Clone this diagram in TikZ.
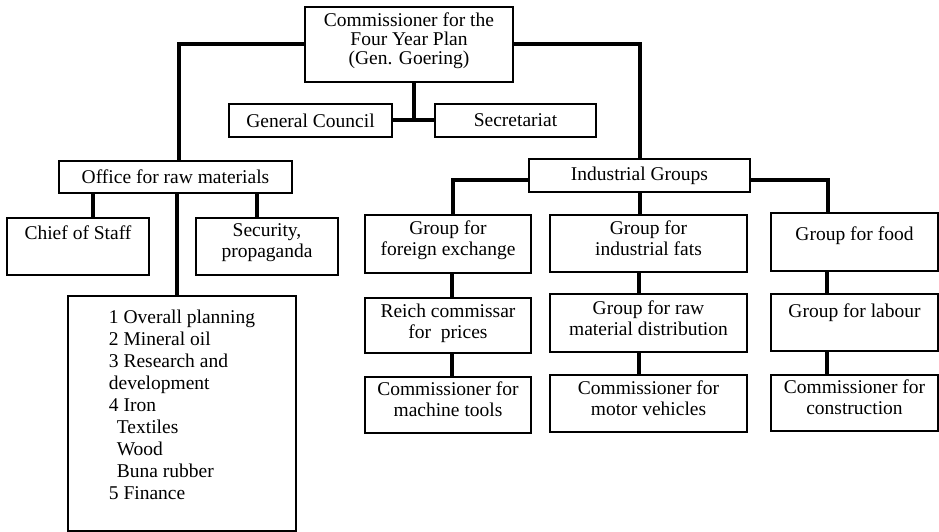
\documentclass[tikz,border=0pt]{standalone}
\usepackage{fontspec}
\setmainfont{Liberation Serif}
\usetikzlibrary{calc}
\newcommand{\lift}[2]{\raisebox{#1}[0pt][0pt]{#2}}
\newcommand{\tx}[2][-2pt]{\raisebox{#1}[0pt][0pt]{\begin{tabular}{@{}c@{}}#2\end{tabular}}}
\begin{document}
\begin{tikzpicture}[x=1pt,y=-1pt,
  box/.style={draw, line width=2.2pt, inner sep=0pt, align=center,
    font=\fontsize{19.5}{21}\selectfont},
  conn/.style={line width=4pt},
]
\useasboundingbox (0,0) rectangle (939,532);
% top level
\node[box, minimum width=208pt, minimum height=75pt,
  font=\fontsize{19.5}{19}\selectfont] (top) at (409,44.5)
  {\tx{Commissioner for the\\Four Year Plan\\(Gen. Goering)}};
\node[box, minimum width=163pt, minimum height=33pt] (gc) at (310.5,120.5) {General Council};
\node[box, minimum width=161pt, minimum height=33pt] (sec) at (515.5,120.5) {Secretariat};
% left branch
\node[box, minimum width=233pt, minimum height=32pt] (office) at (175.5,177) {Office for raw materials};
\node[box, minimum width=142pt, minimum height=57pt] (chief) at (78,246.5) {\lift{7pt}{Chief of Staff}};
\node[box, minimum width=142pt, minimum height=57pt] (secp) at (267,246.5) {\tx[-1pt]{Security,\\propaganda}};
\node[box, minimum width=228pt, minimum height=235pt,
  font=\fontsize{19.5}{22}\selectfont] (big) at (182,413.5)
  {\lift{1pt}{\begin{tabular}{@{}l@{}}
  1 Overall planning\\
  2 Mineral oil\\
  3 Research and\\
  development\\
  4 Iron\\
  \hspace*{8pt}Textiles\\
  \hspace*{8pt}Wood\\
  \hspace*{8pt}Buna rubber\\
  5 Finance
  \end{tabular}}};
% right branch
\node[box, minimum width=221pt, minimum height=33pt] (ig) at (639.5,175.5) {Industrial Groups};
\node[box, minimum width=166pt, minimum height=58pt] (fx) at (448,244) {\tx{Group for\\foreign exchange}};
\node[box, minimum width=197pt, minimum height=57pt] (fats) at (648.5,243.5) {\tx{Group for\\industrial fats}};
\node[box, minimum width=167pt, minimum height=58pt] (food) at (854.5,242) {\lift{2pt}{Group for food}};
\node[box, minimum width=166pt, minimum height=55pt] (reich) at (448,325.5) {\tx[-3pt]{Reich commissar\\for\ \ prices}};
\node[box, minimum width=197pt, minimum height=58pt] (rawd) at (648.5,323) {\tx[-2.5pt]{Group for raw\\material distribution}};
\node[box, minimum width=167pt, minimum height=57pt] (labour) at (854.5,322.5) {\lift{5pt}{Group for labour}};
\node[box, minimum width=166pt, minimum height=56pt] (mtools) at (448,405) {\tx{Commissioner for\\machine tools}};
\node[box, minimum width=197pt, minimum height=57pt] (motor) at (648.5,403.5) {\tx{Commissioner for\\motor vehicles}};
\node[box, minimum width=167pt, minimum height=56pt] (constr) at (854.5,403) {\tx{Commissioner for\\construction}};
% connectors
\coordinate (j) at ($(gc.east)!0.5!(sec.west)$);
\draw[conn] (gc.east) -- (sec.west);
\draw[conn] (top.south -| j) -- (j);
\draw[conn] (top.west) -| ([xshift=3.5pt]office.north);
\draw[conn] (top.east) -| (ig.north);
\draw[conn] ([xshift=15pt]chief.north) -- ([xshift=15pt]chief.north |- office.south);
\draw[conn] ([xshift=-10pt]secp.north) -- ([xshift=-10pt]secp.north |- office.south);
\draw[conn] ([xshift=-5pt]big.north) -- ([xshift=-5pt]big.north |- office.south);
\draw[conn] ([yshift=-4.5pt]ig.west) -| ([xshift=4.5pt]fx.north);
\draw[conn] ([yshift=-4.5pt]ig.east) -| ([xshift=-26.5pt]food.north);
\draw[conn] (ig.south) -- (ig.south |- fats.north);
\draw[conn] ([xshift=4pt]fx.south) -- ([xshift=4pt]reich.north);
\draw[conn] ([xshift=4pt]reich.south) -- ([xshift=4pt]mtools.north);
\draw[conn] ([xshift=-9.5pt]fats.south) -- ([xshift=-9.5pt]rawd.north);
\draw[conn] ([xshift=-9.5pt]rawd.south) -- ([xshift=-9.5pt]motor.north);
\draw[conn] ([xshift=-27.5pt]food.south) -- ([xshift=-27.5pt]labour.north);
\draw[conn] ([xshift=-27.5pt]labour.south) -- ([xshift=-27.5pt]constr.north);
\end{tikzpicture}
\end{document}
